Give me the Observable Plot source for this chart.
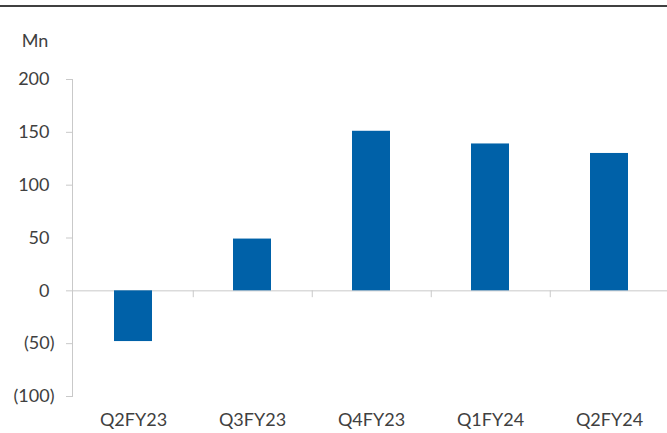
<!DOCTYPE html>
<html><head><meta charset="utf-8">
<script src="https://cdn.jsdelivr.net/npm/d3@7"></script>
<script src="https://cdn.jsdelivr.net/npm/@observablehq/plot@0.6"></script>
<style>
body{margin:0;background:#fff;position:relative;overflow:hidden}
#topline{position:absolute;left:0;top:5px;width:667px;height:2px;background:#404040}
</style></head><body>
<div id="topline"></div>
<div id="chart"></div>
<script>
const categories = ["Q2FY23","Q3FY23","Q4FY23","Q1FY24","Q2FY24"];
const values = [-48, 49, 151, 139, 130];
const posTicks = [0, 50, 100, 150, 200];
const negTicks = [-50, -100];
const yLabel = "Mn";

const data = categories.map((c, i) => ({c, v: values[i]}));
const xRange = [72, 669.5];
const half = (xRange[1] - xRange[0]) / categories.length / 2;
const grey = "#c9c9c9";

const chart = Plot.plot({
  width: 667, height: 433,
  marginLeft: 72, marginTop: 79, marginBottom: 37, marginRight: 0,
  style: {fontFamily: "Lato, sans-serif", fontSize: "18px", color: "#404040", background: "transparent", overflow: "visible"},
  x: {domain: categories, range: xRange, paddingInner: 0.68, paddingOuter: 0.34, label: null},
  y: {domain: [-100, 200], label: null},
  marks: [
    Plot.frame({anchor: "left", stroke: grey}),
    Plot.ruleY([0], {stroke: grey}),
    Plot.ruleX(categories.slice(0, -1), {x: d => d, y1: 0, y2: -6.5, dx: half, stroke: grey}),
    Plot.barY(data, {x: "c", y: "v", fill: "#0061A8"}),
    Plot.axisY({ticks: [...posTicks, ...negTicks], tickSize: 6, text: null, stroke: grey}),
    Plot.axisY({ticks: posTicks, tickSize: 0, tickPadding: 23, tickFormat: d => String(d), fill: "#404040"}),
    Plot.axisY({ticks: negTicks, tickSize: 0, tickPadding: 18, tickFormat: d => `(${-d})`, fill: "#404040"}),
    Plot.axisX({tickSize: 0, tickPadding: 17, fill: "#404040"}),
    Plot.text([yLabel], {frameAnchor: "top-left", dx: -37.5, dy: -33, lineAnchor: "bottom", textAnchor: "middle", fill: "#404040"})
  ]
});
document.getElementById("chart").appendChild(chart);
</script>
</body></html>
